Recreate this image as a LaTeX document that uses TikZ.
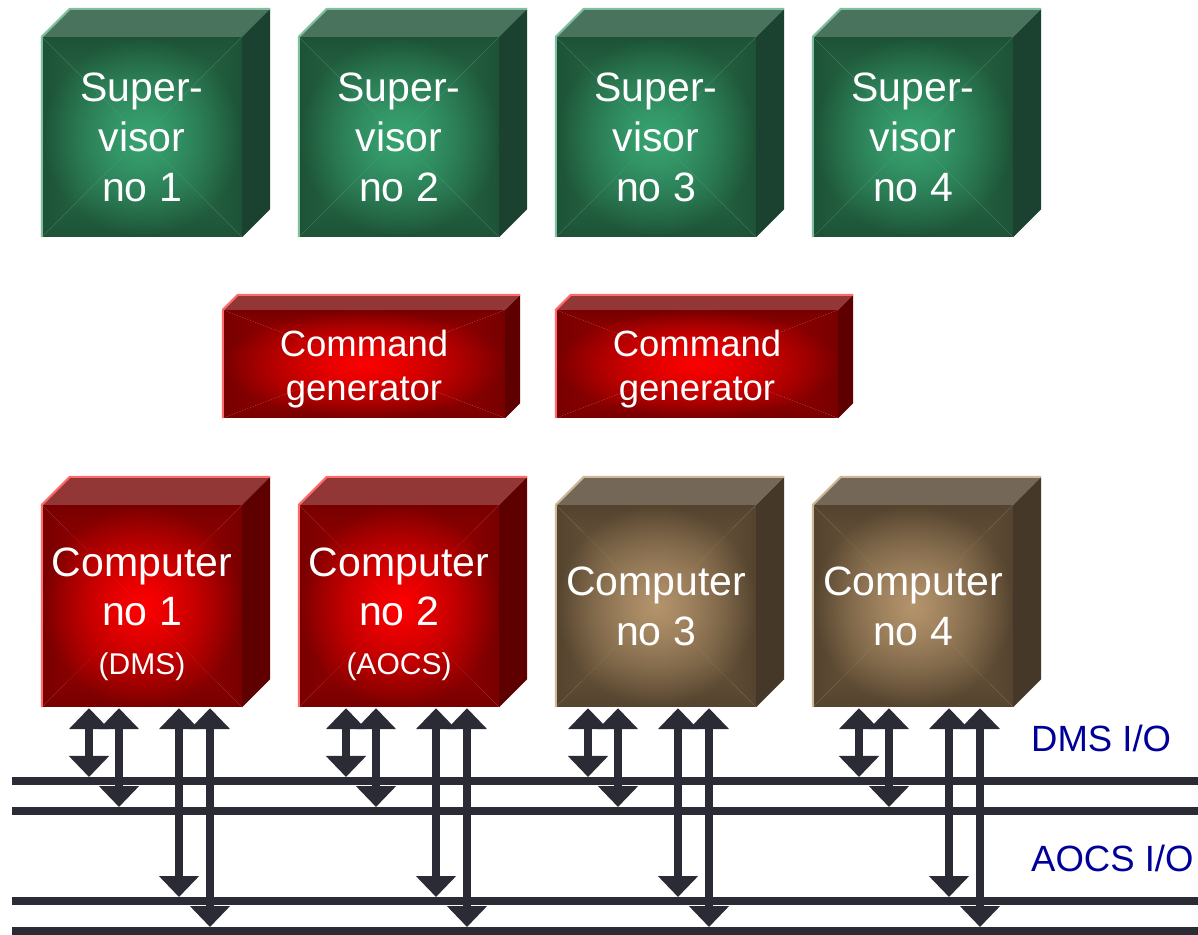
\documentclass[tikz,border=0pt]{standalone}
\usepackage{fontspec}
\setmainfont{Liberation Sans}
\usetikzlibrary{arrows.meta,fadings}
\tikzfading[name=glow, inner color=transparent!0, outer color=transparent!100]
\definecolor{gEdge}{HTML}{1D5236}
\definecolor{gMid}{HTML}{2B7A52}
\definecolor{gGlow}{HTML}{38A472}
\definecolor{gTop}{HTML}{4A735E}
\definecolor{gSide}{HTML}{1B4230}
\definecolor{gHi}{HTML}{7DBF9F}
\definecolor{rEdge}{HTML}{780000}
\definecolor{rMid}{HTML}{B00000}
\definecolor{rGlow}{HTML}{FF0000}
\definecolor{rTop}{HTML}{933636}
\definecolor{rSide}{HTML}{5E0000}
\definecolor{rHi}{HTML}{FF6B6B}
\definecolor{bEdge}{HTML}{54432E}
\definecolor{bMid}{HTML}{7E6648}
\definecolor{bGlow}{HTML}{B4946C}
\definecolor{bTop}{HTML}{756757}
\definecolor{bSide}{HTML}{463829}
\definecolor{bHi}{HTML}{CDB898}
\definecolor{busC}{HTML}{2B2B36}
\definecolor{ioBlue}{HTML}{000099}
\newcommand\cubefaces[5]{%
  \fill[#3] (#1.north west) -- ++(#2,#2) -- ([shift={(#2,#2)}]#1.north east) -- (#1.north east) -- cycle;
  \fill[#4] (#1.north east) -- ++(#2,#2) -- ([shift={(#2,#2)}]#1.south east) -- (#1.south east) -- cycle;
  \draw[#5, line width=2pt, line join=round] (#1.south west) -- (#1.north west) -- ++(#2,#2) -- ([shift={(#2,#2)}]#1.north east);
}
\tikzset{
  face/.style n args={3}{draw=none, inner sep=0pt, text=white, align=center,
    path picture={
      \coordinate (pc) at (path picture bounding box.center);
      \shade[top color=#1, bottom color=#2] (path picture bounding box.north west) -- (path picture bounding box.north east) -- (pc) -- cycle;
      \shade[top color=#2, bottom color=#1] (path picture bounding box.south west) -- (path picture bounding box.south east) -- (pc) -- cycle;
      \shade[left color=#1, right color=#2] (path picture bounding box.north west) -- (path picture bounding box.south west) -- (pc) -- cycle;
      \shade[left color=#2, right color=#1] (path picture bounding box.north east) -- (path picture bounding box.south east) -- (pc) -- cycle;
      \fill[#3, path fading=glow] (path picture bounding box.north west) rectangle (path picture bounding box.south east);
    }},
  supbox/.style={face={gEdge}{gMid}{gGlow}, minimum width=200pt, minimum height=200pt, font=\fontsize{41}{50}\selectfont},
  cgbox/.style={face={rEdge}{rMid}{rGlow}, minimum width=282pt, minimum height=108pt, font=\fontsize{36.5}{44}\selectfont},
  redcomp/.style={face={rEdge}{rMid}{rGlow}, minimum width=200pt, minimum height=202pt, font=\fontsize{41}{49}\selectfont},
  browncomp/.style={face={bEdge}{bMid}{bGlow}, minimum width=200pt, minimum height=202pt, font=\fontsize{41}{50}\selectfont},
  bus/.style={busC, line width=8pt},
  io/.style={busC, line width=8pt, {Triangle[width=39pt,length=21pt]}-{Triangle[width=39pt,length=21pt]}},
  iolabel/.style={text=ioBlue, anchor=west, inner sep=0pt, font=\fontsize{36.5}{44}\selectfont}
}
\begin{document}
\begin{tikzpicture}[x=1pt,y=1pt]
\useasboundingbox (0,0) rectangle (1198,934);
\fill[white] (0,0) rectangle (1198,934);

% supervisors
\node[supbox] (s1) at (142,797) {Super-\\visor\\no 1};
\node[supbox] (s2) at (399,797) {Super-\\visor\\no 2};
\node[supbox] (s3) at (656,797) {Super-\\visor\\no 3};
\node[supbox] (s4) at (913,797) {Super-\\visor\\no 4};
\foreach \n in {s1,s2,s3,s4}{\cubefaces{\n}{28}{gTop}{gSide}{gHi}}

% command generators
\node[cgbox] (g1) at (364,570) {\rule{0pt}{37pt}Command\\generator};
\node[cgbox] (g2) at (697,570) {\rule{0pt}{37pt}Command\\generator};
\foreach \n in {g1,g2}{\cubefaces{\n}{15}{rTop}{rSide}{rHi}}

% computers
\node[redcomp] (c1) at (142,328) {\rule{0pt}{45pt}Computer\\no 1\\{\fontsize{30}{49}\selectfont (DMS)}};
\node[redcomp] (c2) at (399,328) {\rule{0pt}{45pt}Computer\\no 2\\{\fontsize{30}{49}\selectfont (AOCS)}};
\node[browncomp] (c3) at (656,328) {Computer\\no 3};
\node[browncomp] (c4) at (913,328) {Computer\\no 4};
\cubefaces{c1}{28}{rTop}{rSide}{rHi}
\cubefaces{c2}{28}{rTop}{rSide}{rHi}
\cubefaces{c3}{28}{bTop}{bSide}{bHi}
\cubefaces{c4}{28}{bTop}{bSide}{bHi}

% bus lines
\coordinate (d1w) at (12,153); \coordinate (d1e) at (1198,153);
\coordinate (d2w) at (12,123); \coordinate (d2e) at (1198,123);
\coordinate (a1w) at (12,33);  \coordinate (a1e) at (1198,33);
\coordinate (a2w) at (12,3);   \coordinate (a2e) at (1198,3);
\coordinate (td1) at (0,157);
\coordinate (td2) at (0,127);
\coordinate (ta1) at (0,37);
\coordinate (ta2) at (0,7);

% arrows
\foreach \c/\o in {c1/-53, c2/-53, c3/-68, c4/-54}{
  \draw[io] ([xshift=\o pt,yshift=-1pt]\c.south) -- ([xshift=\o pt]\c.south |- td1);
  \draw[io] ([xshift=\o pt+30pt,yshift=-1pt]\c.south) -- ([xshift=\o pt+30pt]\c.south |- td2);
  \draw[io] ([xshift=\o pt+90pt,yshift=-1pt]\c.south) -- ([xshift=\o pt+90pt]\c.south |- ta1);
  \draw[io] ([xshift=\o pt+121pt,yshift=-1pt]\c.south) -- ([xshift=\o pt+121pt]\c.south |- ta2);
}

\draw[bus] (d1w) -- (d1e);
\draw[bus] (d2w) -- (d2e);
\draw[bus] (a1w) -- (a1e);
\draw[bus] (a2w) -- (a2e);

\node[iolabel] (dmsio) at (1031,196) {DMS I/O};
\node[iolabel] (aocsio) at (1031,76) {AOCS I/O};
\end{tikzpicture}
\end{document}
